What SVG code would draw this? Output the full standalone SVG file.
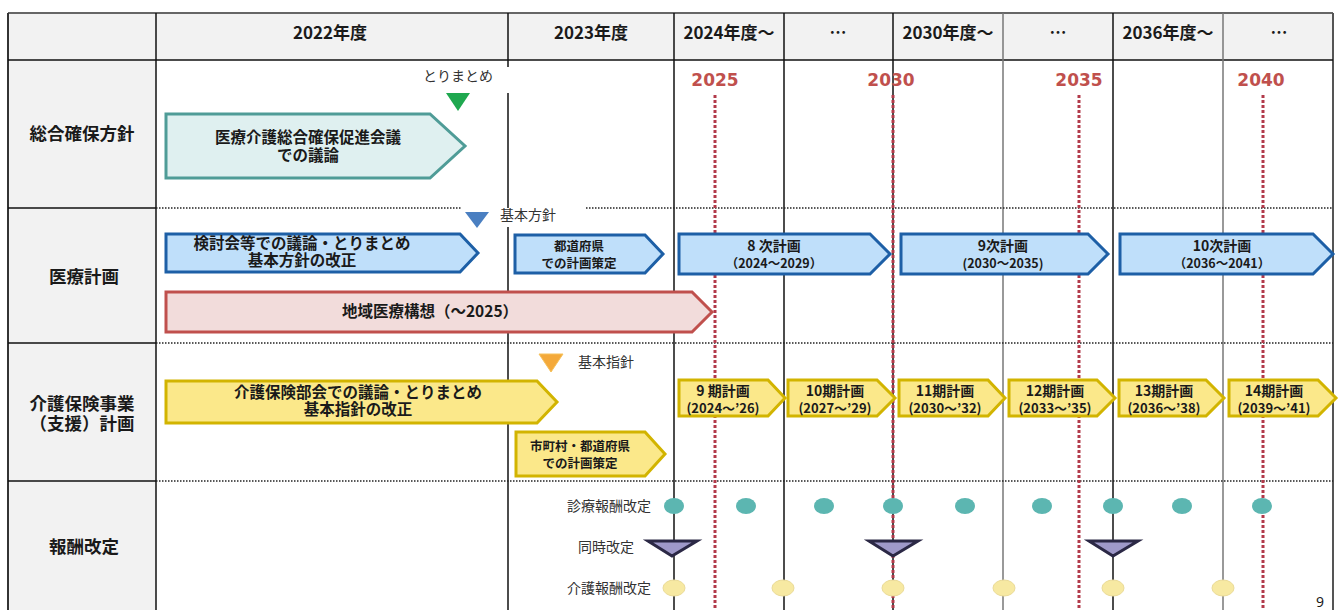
<svg xmlns="http://www.w3.org/2000/svg" width="1342" height="610" viewBox="0 0 1342 610">
<style>
text{font-family:"Noto Sans CJK JP","Noto Sans",sans-serif;fill:#1a1a1a}
.h{font-size:17px;font-weight:700;text-anchor:middle}
.lab{font-size:17.5px;font-weight:700;text-anchor:middle}
.t{font-size:15.5px;font-weight:700;text-anchor:middle}
.s{font-size:12.5px;font-weight:700;text-anchor:middle}
.p{font-size:14px;font-weight:700;text-anchor:middle}
.pp{font-size:13px;font-weight:700;text-anchor:middle}
.n{font-size:14px;font-weight:400;fill:#333}
.yr{font-family:"DejaVu Sans",sans-serif;font-size:17px;font-weight:700;fill:#c0504d;text-anchor:middle}
.col{stroke:#111;stroke-width:1.5}
.colg{stroke:#777;stroke-width:1.5}
.sep{stroke:#222;stroke-width:1.5;stroke-dasharray:1.5 1.5}
.red{stroke:#b23a4a;stroke-width:3;stroke-dasharray:3 2}
.teal{fill:#dff0f0;stroke:#4f9c97;stroke-width:3}
.blue{fill:#bfdffa;stroke:#1d5fa6;stroke-width:3}
.rose{fill:#f2dcdb;stroke:#c0504d;stroke-width:3}
.yel{fill:#fbe88a;stroke:#d2b400;stroke-width:3}
.dot1{fill:#5cb6b1}
.dot2{fill:#f7e9a2;stroke:#eadb98;stroke-width:1}
.tri{fill:#9f99c9;stroke:#2b2845;stroke-width:3;stroke-linejoin:miter}
</style>
<rect x="0" y="0" width="1342" height="610" fill="#fff"/>
<g id="grid">
<rect x="8" y="13" width="1325" height="47" fill="#f2f2f2"/>
<rect x="8" y="60" width="148" height="550" fill="#f2f2f2"/>
<line x1="8" y1="13" x2="1333" y2="13" stroke="#666" stroke-width="2"/>
<line x1="8" y1="13" x2="8" y2="610" stroke="#333" stroke-width="2"/>
<line x1="1333" y1="13" x2="1333" y2="610" stroke="#555" stroke-width="2"/>
<line x1="8" y1="60" x2="1333" y2="60" class="col"/>
<line x1="8" y1="208" x2="156" y2="208" class="col"/>
<line x1="8" y1="343" x2="156" y2="343" class="col"/>
<line x1="8" y1="481" x2="156" y2="481" class="col"/>
<line x1="156" y1="13" x2="156" y2="610" class="col"/>
<line x1="508" y1="13" x2="508" y2="67" class="col"/>
<line x1="508" y1="93" x2="508" y2="208" class="col"/>
<line x1="508" y1="227" x2="508" y2="610" class="col"/>
<line x1="674" y1="13" x2="674" y2="610" class="col"/>
<line x1="784" y1="13" x2="784" y2="610" class="col"/>
<line x1="893" y1="13" x2="893" y2="610" class="col"/>
<line x1="1003" y1="13" x2="1003" y2="610" class="colg"/>
<line x1="1113" y1="13" x2="1113" y2="610" class="col"/>
<line x1="1223" y1="13" x2="1223" y2="610" class="colg"/>
<line x1="156" y1="208" x2="462" y2="208" class="sep"/>
<line x1="586" y1="208" x2="1333" y2="208" class="sep"/>
<line x1="156" y1="343" x2="1333" y2="343" class="sep"/>
<line x1="156" y1="481" x2="1333" y2="481" class="sep"/>
</g>
<g id="header">
<text class="h" x="330" y="39">2022年度</text>
<text class="h" x="591" y="39">2023年度</text>
<text class="h" x="729" y="39">2024年度〜</text>
<text class="h" x="838" y="39">…</text>
<text class="h" x="948" y="39">2030年度〜</text>
<text class="h" x="1058" y="39">…</text>
<text class="h" x="1168" y="39">2036年度〜</text>
<text class="h" x="1279" y="39">…</text>
</g>
<g id="rowlabels">
<text class="lab" x="82" y="140">総合確保方針</text>
<text class="lab" x="84" y="283">医療計画</text>
<text class="lab" x="82" y="410">介護保険事業</text>
<text class="lab" x="82" y="430">（支援）計画</text>
<text class="lab" x="84" y="553">報酬改定</text>
</g>
<g id="connectors">
<line x1="715" y1="95" x2="715" y2="610" class="red"/>
<line x1="893" y1="95" x2="893" y2="610" class="red"/>
<line x1="1079" y1="95" x2="1079" y2="610" class="red"/>
<line x1="1263" y1="95" x2="1263" y2="610" class="red"/>
</g>
<g id="years">
<text class="yr" x="715" y="86">2025</text>
<text class="yr" x="891" y="86">2030</text>
<text class="yr" x="1079" y="86">2035</text>
<text class="yr" x="1261" y="86">2040</text>
</g>
<g id="sogo">
<text class="n" x="458" y="81" text-anchor="middle" font-size="12.5">とりまとめ</text>
<polygon points="446,93 470,93 458,111" fill="#1fa84f"/>
<polygon class="teal" points="166,114 430,114 465,146 430,178 166,178"/>
<text class="t" x="308" y="143">医療介護総合確保促進会議</text>
<text class="t" x="308" y="161">での議論</text>
</g>
<g id="kihonhoshin">
<polygon points="465,212 489,212 477,228" fill="#4a7fc1"/>
<text class="n" x="500" y="220">基本方針</text>
</g>
<g id="iryo1">
<polygon class="blue" points="166,234 460,234 478,253 460,272 166,272"/>
<text class="t" x="302" y="249">検討会等での議論・とりまとめ</text>
<text class="t" x="302" y="266">基本方針の改正</text>
</g>
<g id="iryo2">
<polygon class="blue" points="515,235 645,235 663,254 645,273 515,273"/>
<text class="s" x="579" y="251">都道府県</text>
<text class="s" x="579" y="268">での計画策定</text>
</g>
<g id="plan8">
<polygon class="blue" points="679,234 870,234 890,254 870,274 679,274"/>
<text class="p" x="774" y="251">8 次計画</text>
<text class="s" x="774" y="268">（2024〜2029）</text>
</g>
<g id="plan9">
<polygon class="blue" points="901,234 1088,234 1108,254 1088,274 901,274"/>
<text class="p" x="1003" y="251">9次計画</text>
<text class="s" x="1003" y="268">(2030〜2035)</text>
</g>
<g id="plan10">
<polygon class="blue" points="1120,234 1313,234 1333,254 1313,274 1120,274"/>
<text class="p" x="1222" y="251">10次計画</text>
<text class="s" x="1222" y="268">（2036〜2041）</text>
</g>
<g id="chiiki">
<polygon class="rose" points="166,292 692,292 712,312 692,332 166,332"/>
<text class="t" x="430" y="317">地域医療構想（〜2025）</text>
</g>
<g id="kihonshishin">
<polygon points="539,354 563,354 551,372" fill="#f4a93a" stroke="#f6c15a" stroke-width="1"/>
<text class="n" x="578" y="367">基本指針</text>
</g>
<g id="kaigo1">
<polygon class="yel" points="166,381 537,381 557,402 537,423 166,423"/>
<text class="t" x="358" y="398">介護保険部会での議論・とりまとめ</text>
<text class="t" x="358" y="415">基本指針の改正</text>
</g>
<g id="kaigo2">
<polygon class="yel" points="516,432 645,432 665,454 645,476 516,476"/>
<text class="s" x="580" y="451">市町村・都道府県</text>
<text class="s" x="580" y="468">での計画策定</text>
</g>
<g id="ki9">
<polygon class="yel" points="679,380 768,380 785,398 768,416 679,416"/>
<text class="p" x="723" y="396">9 期計画</text>
<text class="pp" x="723" y="413">(2024〜’26)</text>
</g>
<g id="ki10">
<polygon class="yel" points="788,380 877,380 895,398 877,416 788,416"/>
<text class="p" x="835" y="396">10期計画</text>
<text class="pp" x="835" y="413">(2027〜’29)</text>
</g>
<g id="ki11">
<polygon class="yel" points="899,380 988,380 1005,398 988,416 899,416"/>
<text class="p" x="945" y="396">11期計画</text>
<text class="pp" x="945" y="413">(2030〜’32)</text>
</g>
<g id="ki12">
<polygon class="yel" points="1009,380 1097,380 1115,398 1097,416 1009,416"/>
<text class="p" x="1055" y="396">12期計画</text>
<text class="pp" x="1055" y="413">(2033〜’35)</text>
</g>
<g id="ki13">
<polygon class="yel" points="1119,380 1206,380 1224,398 1206,416 1119,416"/>
<text class="p" x="1164" y="396">13期計画</text>
<text class="pp" x="1164" y="413">(2036〜’38)</text>
</g>
<g id="ki14">
<polygon class="yel" points="1229,380 1318,380 1336,398 1318,416 1229,416"/>
<text class="p" x="1274" y="396">14期計画</text>
<text class="pp" x="1274" y="413">(2039〜’41)</text>
</g>
<g id="hoshu">
<text class="n" x="651" y="511" text-anchor="end" font-size="15">診療報酬改定</text>
<text class="n" x="634" y="552" text-anchor="end" font-size="15">同時改定</text>
<text class="n" x="651" y="593" text-anchor="end" font-size="15">介護報酬改定</text>
<ellipse class="dot1" cx="674" cy="506" rx="10" ry="8"/>
<ellipse class="dot1" cx="746" cy="506" rx="10" ry="8"/>
<ellipse class="dot1" cx="824" cy="506" rx="10" ry="8"/>
<ellipse class="dot1" cx="893" cy="506" rx="10" ry="8"/>
<ellipse class="dot1" cx="965" cy="506" rx="10" ry="8"/>
<ellipse class="dot1" cx="1042" cy="506" rx="10" ry="8"/>
<ellipse class="dot1" cx="1113" cy="506" rx="10" ry="8"/>
<ellipse class="dot1" cx="1182" cy="506" rx="10" ry="8"/>
<ellipse class="dot1" cx="1262" cy="506" rx="10" ry="8"/>
<polygon class="tri" points="648,541 697,541 672,556"/>
<polygon class="tri" points="869,541 918,541 893,556"/>
<polygon class="tri" points="1089,541 1138,541 1113,556"/>
<ellipse class="dot2" cx="674" cy="588" rx="11" ry="8"/>
<ellipse class="dot2" cx="783" cy="588" rx="11" ry="8"/>
<ellipse class="dot2" cx="893" cy="588" rx="11" ry="8"/>
<ellipse class="dot2" cx="1004" cy="588" rx="11" ry="8"/>
<ellipse class="dot2" cx="1113" cy="588" rx="11" ry="8"/>
<ellipse class="dot2" cx="1223" cy="588" rx="11" ry="8"/>
</g>
<text x="1316" y="607" font-size="14" fill="#333" style="font-family:'Noto Sans',sans-serif">9</text>
</svg>
